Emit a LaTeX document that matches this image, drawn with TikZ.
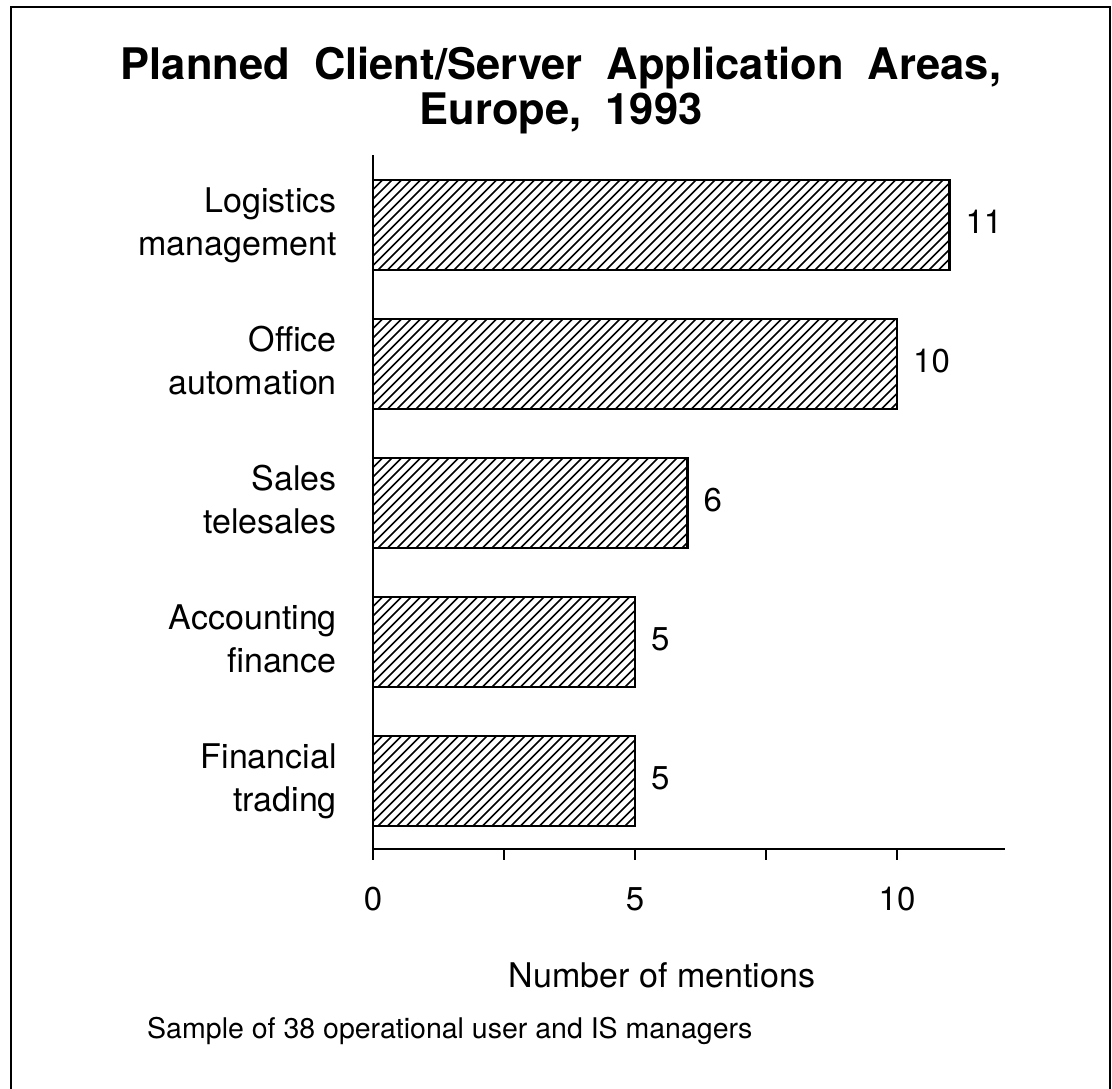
\documentclass[tikz,border=0pt]{standalone}
\usepackage{fontspec}
\setmainfont{TeX Gyre Heros}
\newfontfamily\titlefont{TeX Gyre Heros}[WordSpace=2.0]
\begin{document}
\begin{tikzpicture}[x=1pt,y=-1pt,
  frame/.style={line width=2pt},
  axisline/.style={line width=2.6pt},
  barbox/.style={draw,line width=2.6pt},
  hatch/.style={line width=1.7pt},
  lbl/.style={inner sep=0pt,font=\fontsize{34}{37}\selectfont},
  val/.style={inner sep=0pt,font=\fontsize{33}{36}\selectfont},
  ttl/.style={inner sep=0pt,font=\titlefont\bfseries\fontsize{43.5}{46}\selectfont},
  note/.style={inner sep=0pt,font=\fontsize{28.5}{30}\selectfont}]
\useasboundingbox (0,0) rectangle (1112,1088);
\fill[white] (0,0) rectangle (1112,1088);
% frame
\draw[frame] (11,1090) -- (11,7) -- (1110,7) -- (1110,1090);
% title
\node[ttl,anchor=base] (t1) at (561,79) {Planned Client/Server Application Areas,};
\node[ttl,anchor=base] (t2) at (561,124) {Europe, 1993};
% bars
\foreach \v/\t/\a/\b/\n in {11/180/Logistics/management/1,10/319/Office/automation/2,6/458/Sales/telesales/3,5/597/Accounting/finance/4,5/736/Financial/trading/5}{
  \pgfmathsetmacro\xe{373+52.4*\v}
  \begin{scope}
    \clip (373,\t) rectangle (\xe,\t+90);
    \foreach \k in {0,...,75} \draw[hatch] (373-90+\k*9.5,\t+90) -- ++(90,-90);
  \end{scope}
  \draw[barbox] (373,\t) rectangle (\xe,\t+90);
  \node[lbl,anchor=base east] (la\n) at (337,\t+32) {\a};
  \node[lbl,anchor=base east] (lb\n) at (337,\t+75) {\b};
  \node[val,anchor=west] (v\n) at (\xe+16,\t+42) {\v};
}
% axes
\coordinate (o) at (373,849);
\draw[axisline] (373,155) -- (373,858);
\draw[axisline] (o) -- (1005,849);
\foreach \k in {0,2.5,5,7.5,10} \draw[axisline] (373+52.4*\k,849) -- ++(0,11);
\foreach \k in {0,5,10} \node[val,anchor=base] (x\k) at (373+52.4*\k,910) {\k};
\node[lbl,anchor=base] (xl) at (662,987) {Number of mentions};
\node[note,anchor=base west] (src) at (147,1038) {Sample of 38 operational user and IS managers};
\end{tikzpicture}
\end{document}
